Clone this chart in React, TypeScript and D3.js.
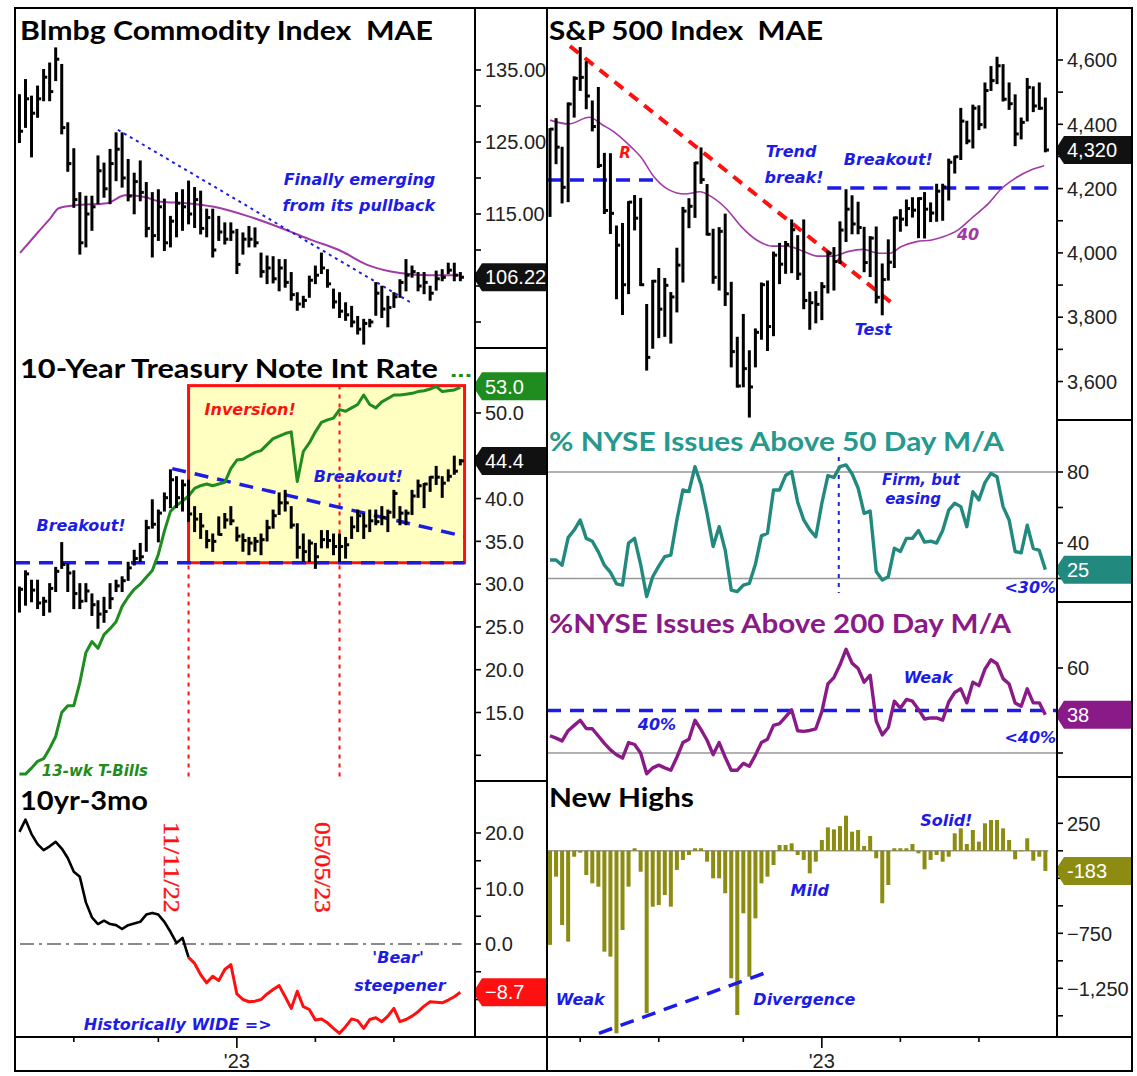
import * as d3 from 'd3';

// weekly bars, left column: Apr 29 2022 .. Sep 22 2023
const LEFT_START = new Date(2022, 3, 29);
// weekly bars, right column: Feb 25 2022 .. Sep 22 2023
const RIGHT_START = new Date(2022, 1, 25);

const bcomHigh = [131.5, 133.6, 131.3, 132.7, 135.0, 135.9, 138.0, 135.7, 127.6, 124.0,
  117.9, 117.4, 117.4, 123.0, 122.0, 123.9, 126.2, 126.2, 122.5, 120.6,
  122.3, 119.3, 117.9, 118.3, 117.0, 114.6, 117.9, 118.3, 119.5, 118.6,
  118.1, 115.6, 115.6, 114.6, 113.7, 113.7, 112.8, 112.3, 113.2, 113.0,
  109.5, 109.1, 109.0, 108.6, 108.6, 106.8, 104.0, 103.5, 106.3, 107.7,
  109.5, 107.2, 104.5, 104.0, 102.6, 102.1, 100.7, 100.3, 100.3, 105.4,
  104.9, 103.5, 104.0, 105.8, 108.6, 107.7, 106.8, 106.8, 104.9, 107.0,
  107.2, 108.1, 108.1, 106.8];
const bcomLow = [125.0, 127.1, 123.0, 128.5, 130.8, 130.8, 133.6, 126.2, 121.0, 116.0,
  109.5, 110.5, 112.8, 116.5, 117.4, 116.5, 119.7, 118.8, 116.9, 115.1,
  116.9, 111.9, 109.1, 111.4, 110.0, 110.5, 111.9, 112.8, 113.7, 113.2,
  112.3, 111.9, 109.1, 111.4, 110.9, 111.4, 106.8, 109.5, 110.5, 110.5,
  106.3, 105.4, 105.5, 104.4, 104.9, 103.1, 101.7, 102.1, 103.5, 105.4,
  106.8, 104.9, 102.0, 100.7, 100.3, 99.4, 98.4, 97.0, 99.4, 101.0,
  100.7, 99.4, 102.1, 103.5, 104.4, 106.3, 104.4, 104.0, 103.1, 104.5,
  105.8, 106.8, 105.8, 105.8];
const bcomClose = [126.5, 131.0, 129.0, 131.0, 134.0, 132.0, 136.5, 127.0, 122.0, 117.0,
  111.0, 115.0, 116.0, 121.0, 118.5, 122.0, 124.0, 120.0, 117.5, 119.5,
  118.0, 113.0, 112.0, 116.0, 111.0, 114.0, 116.5, 116.0, 115.0, 117.0,
  113.0, 114.5, 110.0, 112.5, 111.5, 112.5, 108.0, 111.5, 111.5, 111.0,
  107.0, 107.5, 106.0, 107.5, 105.5, 103.8, 102.5, 103.0, 105.8, 106.5,
  107.5, 105.3, 102.8, 101.5, 101.0, 100.0, 99.0, 99.8, 100.0, 104.0,
  101.8, 102.0, 103.5, 105.5, 106.5, 107.0, 105.0, 105.5, 104.0, 106.0,
  106.2, 107.2, 106.5, 106.22];
// moving average: [week index, value]
const bcomMa: [number, number][] = [[0.1, 109.6], [3, 112.4], [5.1, 114.4], [6.5, 115.8], [9.2, 116.2],
  [14.5, 116.5], [17.5, 117.6], [20.5, 117.4], [23.4, 116.7], [27.6, 116.5], [32.2, 116.0],
  [38.2, 114.6], [44.1, 112.8], [48.3, 111.4], [52.9, 110.0], [57.7, 107.9], [63, 106.8],
  [67.8, 106.5], [73.1, 106.5]];

// 10-year yield x10
const tnHigh = [29.6, 31.5, 30.4, 30.4, 28.4, 30.0, 31.9, 34.8, 32.3, 31.5,
  30.0, 30.0, 28.8, 28.0, 28.4, 30.0, 30.4, 30.8, 32.5, 33.9,
  34.7, 37.4, 39.8, 38.6, 40.6, 43.3, 42.5, 42.1, 42.1, 39.0,
  38.2, 36.2, 35.8, 37.8, 38.2, 39.0, 36.6, 35.8, 35.4, 35.4,
  35.8, 37.4, 38.6, 40.6, 40.9, 39.0, 37.0, 35.8, 35.1, 34.7,
  36.2, 36.2, 35.8, 35.8, 35.4, 37.8, 38.6, 38.2, 38.6, 38.6,
  39.0, 38.6, 40.9, 39.0, 38.6, 40.9, 42.1, 41.7, 42.5, 43.7,
  42.5, 43.3, 44.9, 44.5];
const tnLow = [26.8, 27.6, 28.0, 27.2, 26.4, 26.8, 29.2, 31.9, 29.2, 27.2,
  27.2, 28.0, 26.4, 24.9, 25.6, 27.2, 29.2, 29.2, 30.5, 32.3,
  32.7, 33.9, 36.6, 35.0, 38.6, 39.0, 39.0, 38.6, 37.4, 36.2,
  35.4, 34.3, 33.9, 35.8, 36.6, 37.0, 35.1, 33.9, 33.5, 33.9,
  33.5, 35.1, 36.6, 38.2, 38.6, 36.6, 33.1, 32.7, 32.7, 31.9,
  34.3, 34.3, 33.5, 32.7, 33.1, 35.4, 36.2, 35.4, 36.2, 37.0,
  37.0, 36.2, 37.8, 37.0, 37.0, 38.2, 40.2, 39.0, 40.9, 41.7,
  40.2, 42.1, 42.9, 44.0];
const tnClose = [29.4, 31.2, 29.3, 27.8, 28.0, 29.5, 31.5, 32.3, 31.3, 28.9,
  28.0, 29.2, 27.6, 26.5, 26.8, 28.3, 29.8, 30.4, 31.9, 33.0,
  33.2, 36.6, 37.0, 38.3, 40.1, 42.2, 40.1, 41.6, 38.2, 37.6,
  36.8, 35.1, 35.0, 35.8, 37.5, 37.4, 35.6, 35.1, 34.8, 35.0,
  35.2, 36.6, 38.0, 39.5, 39.5, 36.9, 34.3, 33.8, 34.8, 33.2,
  35.2, 35.1, 34.4, 34.4, 34.6, 36.7, 38.0, 36.8, 37.4, 37.3,
  37.8, 38.4, 40.6, 38.3, 38.3, 40.3, 41.5, 41.7, 42.5, 42.5,
  41.8, 42.6, 43.2, 44.4];
// 13-week T-bill x10
const tbill = [7.8, 7.8, 8.5, 9.3, 9.6, 10.8, 12.2, 15.0, 15.8, 15.8,
  18.5, 22.0, 23.3, 22.5, 24.1, 24.8, 25.6, 27.4, 28.5, 29.4,
  30.0, 30.8, 31.6, 33.5, 36.2, 38.5, 39.2, 39.7, 40.3, 41.2,
  41.5, 41.7, 41.5, 41.7, 41.9, 43.5, 44.5, 44.6, 45.0, 45.4,
  45.6, 46.3, 47.0, 47.3, 47.6, 47.8, 42.0, 45.5, 46.5, 47.8,
  48.9, 49.2, 49.4, 50.4, 50.2, 50.6, 51.0, 52.1, 51.0, 50.6,
  51.3, 51.7, 52.1, 52.1, 52.2, 52.3, 52.5, 52.6, 52.8, 53.1,
  52.5, 52.6, 52.7, 53.0];
// 10yr - 3mo spread x10
const spread = [20.2, 22.4, 19.8, 18.0, 16.9, 17.6, 18.4, 17.2, 15.5, 13.0,
  12.1, 7.5, 4.8, 3.6, 4.2, 3.6, 3.4, 2.7, 3.4, 3.7,
  4.0, 5.3, 5.6, 5.3, 4.0, 2.2, 0.2, 1.1, -2.4, -3.5,
  -5.5, -7.0, -5.8, -6.6, -4.6, -3.7, -9.0, -10.0, -10.4, -10.3,
  -10.0, -9.0, -8.2, -7.5, -9.5, -11.6, -8.5, -11.3, -11.8, -13.7,
  -13.5, -14.2, -15.2, -16.1, -14.9, -13.5, -13.8, -15.2, -13.6, -13.3,
  -14.0, -13.0, -11.6, -14.0, -13.6, -13.0, -12.2, -11.2, -10.4, -10.5,
  -10.6, -10.1, -9.5, -8.7];

const spxHigh = [4385, 4416, 4327, 4465, 4546, 4637, 4593, 4471, 4513, 4308,
  4307, 4082, 4090, 4158, 4177, 4168, 3838, 3913, 3950, 3919,
  3875, 4013, 4140, 4167, 4280, 4325, 4211, 4072, 4077, 4119,
  3907, 3736, 3807, 3694, 3762, 3905, 3911, 4001, 4028, 4034,
  4101, 4052, 4101, 3876, 3878, 3906, 4004, 4015, 4095, 4195,
  4176, 4156, 4078, 4049, 4079, 3964, 4039, 4110, 4133, 4163,
  4170, 4170, 4186, 4154, 4212, 4212, 4290, 4299, 4448, 4408,
  4458, 4456, 4527, 4578, 4607, 4584, 4527, 4490, 4418, 4541,
  4515, 4527, 4480];
const spxLow = [4115, 4279, 4157, 4161, 4424, 4507, 4450, 4381, 4267, 4124,
  4062, 3859, 3810, 3875, 4073, 3900, 3637, 3705, 3738, 3742,
  3721, 3818, 3911, 4080, 4112, 4218, 4057, 3907, 3886, 3838,
  3647, 3584, 3585, 3491, 3647, 3733, 3698, 3744, 3906, 3938,
  3940, 3919, 3828, 3764, 3784, 3794, 3877, 3886, 3969, 4037,
  4061, 4061, 3943, 3928, 3846, 3809, 3917, 3956, 4069, 4086,
  4113, 4049, 4048, 4099, 4100, 4103, 4166, 4250, 4292, 4341,
  4328, 4385, 4390, 4507, 4528, 4474, 4448, 4335, 4356, 4412,
  4441, 4448, 4316];
const spxClose = [4385, 4329, 4204, 4463, 4543, 4546, 4488, 4393, 4272, 4132,
  4123, 4024, 3901, 4158, 4108, 3901, 3675, 3912, 3825, 3899,
  3863, 3962, 4130, 4145, 4280, 4228, 4058, 3924, 4067, 3873,
  3693, 3586, 3640, 3583, 3753, 3901, 3771, 3993, 3965, 4026,
  4072, 3934, 3852, 3845, 3840, 3895, 3999, 3973, 4071, 4136,
  4090, 4079, 3970, 4046, 3862, 3917, 3971, 4109, 4105, 4138,
  4133, 4169, 4136, 4124, 4192, 4205, 4282, 4299, 4410, 4348,
  4450, 4399, 4505, 4536, 4582, 4478, 4464, 4370, 4406, 4515,
  4457, 4450, 4320];
const spxMa: [number, number][] = [[0, 4413], [3.1, 4401], [6.5, 4422], [8.7, 4398], [10.9, 4372],
  [13.4, 4330], [15, 4299], [17.2, 4237], [19.7, 4196], [22.3, 4183], [24.8, 4190], [26.7, 4175],
  [29.1, 4139], [31.7, 4081], [34.2, 4040], [36.8, 4021], [39.2, 4021], [41.7, 4007], [44.3, 3990],
  [46.8, 3990], [49.3, 4004], [51.8, 4011], [54.4, 3999], [56.3, 3999], [58.1, 4019], [60.7, 4035],
  [63.2, 4040], [65.1, 4050], [67.5, 4071], [70.1, 4113], [72.6, 4154], [74.8, 4201], [77, 4232],
  [79.6, 4258], [81.8, 4271]];

const nyse50 = [30.4, 30.4, 27.5, 43, 47.3, 53, 42.6, 41, 35, 27.5,
  23.5, 17, 16.3, 40, 42.6, 28, 9.8, 21, 27, 32.3,
  33.2, 53, 69.9, 69, 83, 73, 56.7, 38, 49.2, 36,
  13.5, 12.6, 16.3, 17.2, 28, 44, 45.5, 69.9, 69.9, 78,
  80.2, 63, 53, 47.5, 43.5, 62.4, 78, 77, 83, 84,
  79, 71, 56.7, 58, 24, 19.2, 21, 37, 35.2, 42.6,
  42.6, 47, 40.5, 41, 40, 47, 58.5, 62.4, 60.5, 49.2,
  68.9, 64.3, 74, 79.2, 77.3, 60.5, 53, 35.2, 34.5, 50,
  37, 35.8, 25];
const nyse200 = [28.1, 27, 25.7, 30.5, 33, 35.4, 31.5, 31.4, 28, 24.5,
  21.5, 19.2, 17.6, 24.9, 24, 20, 10.2, 13, 14.3, 13,
  11.9, 18, 24.9, 26.5, 35.4, 31, 26, 19.2, 24.9, 18,
  11.9, 11.9, 15.1, 13.8, 19, 24.9, 26.5, 33, 33.8, 37,
  40.3, 30.5, 30.2, 30.6, 31.4, 39.5, 52.5, 55.5, 61.5, 68.8,
  62.3, 59.8, 53.3, 56.6, 35, 28.5, 32, 44.4, 41.1, 45.2,
  44.4, 40.5, 36, 36.5, 36.5, 35.5, 44, 48.5, 50.2, 43.6,
  53.3, 51.7, 59.5, 63.9, 62, 55, 52.5, 43.5, 42, 50.2,
  43.6, 43.6, 38];
const newHighs = [-855, -235, -675, -826, -54, -17, -220, -296, -326, -917,
  -962, -1659, -720, -326, 23, -190, -1477, -508, -493, -402,
  -508, -174, -83, -38, 23, 23, -99, -250, -250, -386,
  -1159, -1493, -568, -1144, -614, -296, -235, -129, 53, 53,
  68, -38, -83, -205, -99, 98, 213, 195, 225, 319,
  174, 189, 44, 135, -68, -477, -311, 23, 23, 23,
  62, -23, -168, -83, -38, -99, -54, 159, 204, 62,
  189, 83, 250, 280, 280, 204, 98, -77, 5, 114,
  -90, -54, -183];

const leftTicks = [new Date(2022, 6, 1), new Date(2022, 9, 7), new Date(2023, 0, 6), new Date(2023, 3, 7), new Date(2023, 6, 7)];
const rightTicks = [new Date(2022, 3, 1), ...leftTicks];
const YEAR_TICK = new Date(2023, 0, 6);
const MARK_DATES = [new Date(2022, 10, 11), new Date(2023, 4, 5)];

const DAY = 864e5;
const wkL = (i: number) => new Date(+LEFT_START + i * 7 * DAY);
const wkR = (j: number) => new Date(+RIGHT_START + j * 7 * DAY);

// layout
const L0 = 16, LAX = 475, DIV = 547, RAX = 1057, R2 = 1132;
const TOP = 8, XAXIS = 1037, BOTTOM = 1071;

const FONT_AX = '"Liberation Sans", Arial, sans-serif';
const FONT_TITLE = 'Lato, "Open Sans", sans-serif';
const FONT_NOTE = '"DejaVu Sans", Verdana, sans-serif';
const BLUE = '#1c1ce6';
const RED = '#ff1010';
const GREEN = '#1e8c1e';
const TEAL = '#22897f';
const PURPLE = '#8a1a88';
const OLIVE = '#8c8c12';
const MA_PURPLE = '#a23aa6';

const xL = d3.scaleTime().domain([new Date(2022, 3, 25), new Date(2023, 9, 9)]).range([L0, LAX]);
const xR = d3.scaleTime().domain([new Date(2022, 1, 21, 12), new Date(2023, 9, 5, 12)]).range([DIV, RAX]);

const yBcom = d3.scaleLinear().domain([100, 135]).range([322, 70]);
const yTn = d3.scaleLinear().domain([15, 50]).range([712.5, 413]);
const ySpread = d3.scaleLinear().domain([0, 20]).range([944, 833]);
const ySpx = d3.scaleLinear().domain([3600, 4600]).range([381.5, 60]);
const yN50 = d3.scaleLinear().domain([40, 80]).range([543, 472]);
const yN200 = d3.scaleLinear().domain([20, 60]).range([753, 668]);
const yNh = d3.scaleLinear().domain([-1250, 250]).range([988.3, 823.3]);

type Scale = (v: number) => number;

function HLC({ dates, hi, lo, cl, x, y }: { dates: Date[]; hi: number[]; lo: number[]; cl: number[]; x: (d: Date) => number; y: Scale }) {
  return (
    <g stroke="#000" strokeWidth={3} fill="none">
      {dates.map((d, i) => {
        const px = x(d);
        return (
          <g key={i}>
            <line x1={px} x2={px} y1={y(hi[i]) - 1} y2={y(lo[i]) + 1} />
            <line x1={px} x2={px + 3.6} y1={y(cl[i])} y2={y(cl[i])} />
          </g>
        );
      })}
    </g>
  );
}

function YAxis({ ax, scale, ticks, labels, fmt }: { ax: number; scale: Scale; ticks: number[]; labels: number[]; fmt: (v: number) => string }) {
  return (
    <g>
      {ticks.map((t) => (
        <line key={'t' + t} x1={ax} x2={ax + 6} y1={scale(t)} y2={scale(t)} stroke="#000" strokeWidth={1.6} />
      ))}
      {labels.map((t) => (
        <text key={'l' + t} x={ax + 10} y={scale(t)} dy="0.36em" fontSize={20} fill="#222" fontFamily={FONT_AX}>
          {fmt(t)}
        </text>
      ))}
    </g>
  );
}

function Tag({ ax, right, y, text, fill }: { ax: number; right: number; y: number; text: string; fill: string }) {
  const h = 14;
  const d = `M${ax - 2},${y} L${ax + 7},${y - h} L${right},${y - h} L${right},${y + h} L${ax + 7},${y + h} Z`;
  return (
    <g>
      <path d={d} fill={fill} />
      <text x={ax + 10} y={y} dy="0.36em" fontSize={20} fill="#fff" fontFamily={FONT_AX}>
        {text}
      </text>
    </g>
  );
}

function Title({ x, y, len, fill = '#000', children }: { x: number; y: number; len: number; fill?: string; children: string }) {
  return (
    <text x={x} y={y} fontFamily={FONT_TITLE} fontWeight={700} fontSize={27} fill={fill}
      textLength={len} lengthAdjust="spacingAndGlyphs" style={{ whiteSpace: 'pre' }}>
      {children}
    </text>
  );
}

function Note({ x, y, fill = BLUE, size = 16, children }: { x: number; y: number; fill?: string; size?: number; children: string }) {
  return (
    <text x={x} y={y} fill={fill} fontSize={size} fontStyle="italic" fontWeight="bold"
      fontFamily={FONT_NOTE} textAnchor="middle">
      {children}
    </text>
  );
}

const seriesPath = (dates: Date[], vals: number[], x: (d: Date) => number, y: Scale) =>
  d3.line<number>().x((_, i) => x(dates[i])).y((v) => y(v))(vals) ?? '';

const maPath = (pts: [number, number][], wk: (i: number) => Date, x: (d: Date) => number, y: Scale) =>
  d3.line<[number, number]>().x((p) => x(wk(p[0]))).y((p) => y(p[1])).curve(d3.curveMonotoneX)(pts) ?? '';

export default function App() {
  const leftDates = bcomHigh.map((_, i) => wkL(i));
  const rightDates = spxHigh.map((_, j) => wkR(j));
  const fmt2 = d3.format('.2f');
  const fmt1 = d3.format('.1f');
  const fmtC = d3.format(',');
  const last = (a: number[]) => a[a.length - 1];

  const SPLIT = 28; // 11/11/22 bar
  const boxX0 = xL(MARK_DATES[0]);
  const boxX1 = xL(wkL(73.7));
  const boxY0 = yTn(53.2);
  const boxY1 = yTn(32.5);

  return (
    <div style={{ position: 'absolute', left: 0, top: 0 }}>
      <svg width={1137} height={1076} style={{ display: 'block', background: '#fff' }} fontFamily={FONT_AX}>
        <defs>
          <clipPath id="cL1"><rect x={L0} y={TOP} width={LAX - L0} height={348 - TOP} /></clipPath>
          <clipPath id="cL2"><rect x={L0} y={348} width={LAX - L0} height={781 - 348} /></clipPath>
          <clipPath id="cL3"><rect x={L0} y={781} width={LAX - L0} height={XAXIS - 781} /></clipPath>
          <clipPath id="cR1"><rect x={DIV} y={TOP} width={RAX - DIV} height={420 - TOP} /></clipPath>
          <clipPath id="cR2"><rect x={DIV} y={420} width={RAX - DIV} height={602 - 420} /></clipPath>
          <clipPath id="cR3"><rect x={DIV} y={602} width={RAX - DIV} height={777 - 602} /></clipPath>
          <clipPath id="cR4"><rect x={DIV} y={777} width={RAX - DIV} height={XAXIS - 777} /></clipPath>
          <clipPath id="cAxL"><rect x={LAX} y={TOP} width={DIV - LAX} height={XAXIS - TOP} /></clipPath>
          <clipPath id="cAxR"><rect x={RAX} y={TOP} width={R2 - RAX} height={XAXIS - TOP} /></clipPath>
        </defs>

        {/* ---------- LEFT 1: Bloomberg commodity ---------- */}
        <g clipPath="url(#cL1)">
          <path d={maPath(bcomMa, wkL, xL, yBcom)} fill="none" stroke={MA_PURPLE} strokeWidth={2} />
          <line x1={xL(wkL(16.3))} y1={yBcom(126.7)} x2={xL(wkL(65))} y2={yBcom(102.6)}
            stroke={BLUE} strokeWidth={2} strokeDasharray="3,4" />
          <HLC dates={leftDates} hi={bcomHigh} lo={bcomLow} cl={bcomClose} x={xL} y={yBcom} />
          <Note x={xL(wkL(56.3))} y={yBcom(119.0)}>Finally emerging</Note>
          <Note x={xL(wkL(56.2))} y={yBcom(115.4)}>from its pullback</Note>
        </g>
        <Title x={20} y={40} len={413}>{'Blmbg Commodity Index  MAE'}</Title>

        {/* ---------- LEFT 2: 10-year yield ---------- */}
        <g clipPath="url(#cL2)">
          <rect x={boxX0} y={boxY0} width={boxX1 - boxX0} height={boxY1 - boxY0} fill="#ffffc2" stroke={RED} strokeWidth={3} />
          {MARK_DATES.map((d, k) => (
            <line key={k} x1={xL(d)} x2={xL(d)} y1={boxY0} y2={XAXIS} stroke={RED} strokeWidth={2} strokeDasharray="4,5" />
          ))}
          <line x1={L0} x2={boxX1} y1={yTn(32.5)} y2={yTn(32.5)} stroke={BLUE} strokeWidth={3.5} strokeDasharray="14,9" />
          <line x1={xL(wkL(25.3))} y1={yTn(43.5)} x2={xL(wkL(73.6))} y2={yTn(35.6)} stroke={BLUE} strokeWidth={3.5} strokeDasharray="14,9" />
          <path d={seriesPath(leftDates, tbill, xL, yTn)} fill="none" stroke={GREEN} strokeWidth={3} strokeLinejoin="round" />
          <HLC dates={leftDates} hi={tnHigh} lo={tnLow} cl={tnClose} x={xL} y={yTn} />
          <Note x={xL(wkL(10.2))} y={yTn(36.2)}>Breakout!</Note>
          <Note x={xL(wkL(56.1))} y={yTn(41.9)}>Breakout!</Note>
          <Note x={xL(wkL(38.2))} y={yTn(49.8)} fill={RED}>Inversion!</Note>
          <Note x={xL(wkL(12.5))} y={yTn(7.6)} fill={GREEN} size={15}>13-wk T-Bills</Note>
        </g>
        <Title x={20} y={378} len={418}>{'10-Year Treasury Note Int Rate'}</Title>
        <text x={450} y={377} fill={GREEN} fontSize={20} fontWeight="bold" textLength={22} lengthAdjust="spacingAndGlyphs">...</text>

        {/* ---------- LEFT 3: 10yr-3mo ---------- */}
        <g clipPath="url(#cL3)">
          <line x1={L0 + 4} x2={xL(wkL(73.2))} y1={ySpread(0)} y2={ySpread(0)} stroke="#8a8a8a" strokeWidth={1.8} strokeDasharray="14,5,3,5" />
          <path d={seriesPath(leftDates.slice(0, SPLIT + 1), spread.slice(0, SPLIT + 1), xL, ySpread)} fill="none" stroke="#000" strokeWidth={2.6} strokeLinejoin="round" />
          <path d={seriesPath(leftDates.slice(SPLIT), spread.slice(SPLIT), xL, ySpread)} fill="none" stroke={RED} strokeWidth={3} strokeLinejoin="round" />
          <Note x={xL(wkL(62.7))} y={ySpread(-3.4)}>'Bear'</Note>
          <Note x={xL(wkL(63.0))} y={ySpread(-8.4)}>steepener</Note>
          <Note x={xL(wkL(26.2))} y={ySpread(-15.5)}>{'Historically WIDE =>'}</Note>
          {MARK_DATES.map((d, k) => (
            <text key={k} transform={`translate(${xL(d) - 25},${ySpread(22)}) rotate(90)`} fill={RED}
              fontFamily='"Liberation Serif", "Times New Roman", serif' fontSize={24} textLength={91} lengthAdjust="spacingAndGlyphs"
              stroke={RED} strokeWidth={0.4}>
              {d3.timeFormat('%m/%d/%y')(d)}
            </text>
          ))}
        </g>
        <Title x={20} y={810} len={128}>{'10yr-3mo'}</Title>

        {/* ---------- RIGHT 1: S&P 500 ---------- */}
        <g clipPath="url(#cR1)">
          <line x1={DIV} x2={xR(wkR(17.1))} y1={ySpx(4227)} y2={ySpx(4227)} stroke={BLUE} strokeWidth={3.5} strokeDasharray="14,9" />
          <line x1={xR(wkR(45.9))} x2={RAX} y1={ySpx(4202)} y2={ySpx(4202)} stroke={BLUE} strokeWidth={3.5} strokeDasharray="14,9" />
          <line x1={xR(wkR(3.3))} y1={ySpx(4643)} x2={xR(wkR(56.6))} y2={ySpx(3844)} stroke={RED} strokeWidth={4} strokeDasharray="11,8" />
          <path d={maPath(spxMa, wkR, xR, ySpx)} fill="none" stroke={MA_PURPLE} strokeWidth={1.6} />
          <HLC dates={rightDates} hi={spxHigh} lo={spxLow} cl={spxClose} x={xR} y={ySpx} />
          <Note x={xR(wkR(12.4))} y={ySpx(4295)} fill={RED} size={15}>R</Note>
          <Note x={xR(wkR(39.9))} y={ySpx(4298)}>Trend</Note>
          <Note x={xR(wkR(40.4))} y={ySpx(4217)}>break!</Note>
          <Note x={xR(wkR(56.0))} y={ySpx(4273)}>Breakout!</Note>
          <Note x={xR(wkR(53.5))} y={ySpx(3745)}>Test</Note>
          <Note x={xR(wkR(69.2))} y={ySpx(4040)} fill={MA_PURPLE}>40</Note>
        </g>
        <Title x={549} y={40} len={274}>{'S&P 500 Index  MAE'}</Title>

        {/* ---------- RIGHT 2: % above 50-day ---------- */}
        <g clipPath="url(#cR2)">
          {[80, 20].map((v) => (
            <line key={v} x1={DIV} x2={RAX} y1={yN50(v)} y2={yN50(v)} stroke="#999" strokeWidth={1.6} />
          ))}
          <line x1={xR(wkR(47.8))} x2={xR(wkR(47.8))} y1={yN50(88.5)} y2={yN50(11.8)} stroke={BLUE} strokeWidth={2} strokeDasharray="4,5" />
          <path d={seriesPath(rightDates, nyse50, xR, yN50)} fill="none" stroke={TEAL} strokeWidth={3.4} strokeLinejoin="round" />
          <Note x={xR(wkR(61.4))} y={yN50(72.6)} size={15}>Firm, but</Note>
          <Note x={xR(wkR(60.1))} y={yN50(62.0)} size={15}>easing</Note>
          <Note x={xR(wkR(79.5))} y={yN50(11.8)}>{'<30%'}</Note>
        </g>
        <Title x={549} y={451} len={455} fill="#25998d">{'% NYSE Issues Above 50 Day M/A'}</Title>

        {/* ---------- RIGHT 3: % above 200-day ---------- */}
        <g clipPath="url(#cR3)">
          <line x1={DIV} x2={RAX} y1={yN200(20)} y2={yN200(20)} stroke="#999" strokeWidth={1.6} />
          <line x1={DIV} x2={RAX} y1={yN200(40)} y2={yN200(40)} stroke={BLUE} strokeWidth={3.5} strokeDasharray="14,9" />
          <path d={seriesPath(rightDates, nyse200, xR, yN200)} fill="none" stroke={PURPLE} strokeWidth={3.4} strokeLinejoin="round" />
          <Note x={xR(wkR(17.7))} y={yN200(30.8)}>40%</Note>
          <Note x={xR(wkR(62.6))} y={yN200(52.9)}>Weak</Note>
          <Note x={xR(wkR(79.5))} y={yN200(24.7)}>{'<40%'}</Note>
        </g>
        <Title x={549} y={633} len={462} fill={PURPLE}>{'%NYSE Issues Above 200 Day M/A'}</Title>

        {/* ---------- RIGHT 4: new highs ---------- */}
        <g clipPath="url(#cR4)">
          <line x1={xR(wkR(0)) - 3} x2={xR(wkR(82)) + 3} y1={yNh(0)} y2={yNh(0)} stroke="#999" strokeWidth={1.6} />
          {rightDates.map((d, j) => (
            <rect key={j} x={xR(d) - 2} width={4}
              y={Math.min(yNh(0), yNh(newHighs[j]))} height={Math.max(1, Math.abs(yNh(newHighs[j]) - yNh(0)))} fill={OLIVE} />
          ))}
          <line x1={xR(wkR(8.1))} y1={yNh(-1659)} x2={xR(wkR(36.1))} y2={yNh(-1100)} stroke={BLUE} strokeWidth={3.5} strokeDasharray="14,9" />
          <Note x={xR(wkR(5.0))} y={yNh(-1402)}>Weak</Note>
          <Note x={xR(wkR(42.1))} y={yNh(-1402)}>Divergence</Note>
          <Note x={xR(wkR(43.0))} y={yNh(-411)}>Mild</Note>
          <Note x={xR(wkR(65.6))} y={yNh(225)}>Solid!</Note>
        </g>
        <Title x={549} y={807} len={145}>{'New Highs'}</Title>

        {/* ---------- axes (labels that sit under a value tag are left out) ---------- */}
        <g clipPath="url(#cAxL)">
          <YAxis ax={LAX} scale={yBcom} ticks={d3.range(100, 136, 5)} labels={[135, 125, 115]} fmt={fmt2} />
          <YAxis ax={LAX} scale={yTn} ticks={d3.range(10, 51, 5)} labels={[50, 40, 35, 30, 25, 20, 15]} fmt={fmt1} />
          <YAxis ax={LAX} scale={ySpread} ticks={d3.range(-10, 21, 5)} labels={[20, 10, 0]} fmt={fmt1} />
          <Tag ax={LAX} right={DIV} y={yBcom(last(bcomClose))} text={fmt2(last(bcomClose))} fill="#111" />
          <Tag ax={LAX} right={DIV} y={yTn(last(tbill)) - 1} text={fmt1(last(tbill))} fill={GREEN} />
          <Tag ax={LAX} right={DIV} y={yTn(last(tnClose))} text={fmt1(last(tnClose))} fill="#111" />
          <Tag ax={LAX} right={DIV} y={ySpread(last(spread))} text={fmt1(last(spread))} fill={RED} />
        </g>
        <g clipPath="url(#cAxR)">
          <YAxis ax={RAX} scale={ySpx} ticks={d3.range(3600, 4601, 100)} labels={d3.range(3600, 4601, 200)} fmt={fmtC} />
          <YAxis ax={RAX} scale={yN50} ticks={[20, 40, 60, 80]} labels={[40, 80]} fmt={String} />
          <YAxis ax={RAX} scale={yN200} ticks={[20, 40, 60]} labels={[60]} fmt={String} />
          <YAxis ax={RAX} scale={yNh} ticks={d3.range(-1500, 251, 250)} labels={[250, -750, -1250]} fmt={fmtC} />
          <Tag ax={RAX} right={R2} y={ySpx(last(spxClose))} text={fmtC(last(spxClose))} fill="#111" />
          <Tag ax={RAX} right={R2} y={yN50(last(nyse50))} text={String(last(nyse50))} fill={TEAL} />
          <Tag ax={RAX} right={R2} y={yN200(last(nyse200))} text={String(last(nyse200))} fill={PURPLE} />
          <Tag ax={RAX} right={R2} y={yNh(last(newHighs))} text={String(last(newHighs))} fill={OLIVE} />
        </g>

        {/* x axes */}
        {leftTicks.map((d, k) => (
          <line key={'xl' + k} x1={xL(d)} x2={xL(d)} y1={XAXIS} y2={XAXIS + (+d === +YEAR_TICK ? 11 : 5)} stroke="#000" strokeWidth={1.6} />
        ))}
        {rightTicks.map((d, k) => (
          <line key={'xr' + k} x1={xR(d)} x2={xR(d)} y1={XAXIS} y2={XAXIS + (+d === +YEAR_TICK ? 11 : 5)} stroke="#000" strokeWidth={1.6} />
        ))}
        <text x={xL(YEAR_TICK)} y={1068} textAnchor="middle" fontSize={20} fill="#222">'23</text>
        <text x={xR(YEAR_TICK)} y={1068} textAnchor="middle" fontSize={20} fill="#222">'23</text>

        {/* frame and separators */}
        <g stroke="#000" strokeWidth={2} fill="none">
          <rect x={15} y={TOP} width={R2 - 15} height={BOTTOM - TOP} />
          <line x1={LAX} x2={LAX} y1={TOP} y2={XAXIS} />
          <line x1={DIV} x2={DIV} y1={TOP} y2={BOTTOM} />
          <line x1={RAX} x2={RAX} y1={TOP} y2={XAXIS} />
          <line x1={15} x2={R2} y1={XAXIS} y2={XAXIS} />
          <line x1={LAX} x2={DIV} y1={348} y2={348} />
          <line x1={LAX} x2={DIV} y1={781} y2={781} />
          <line x1={RAX} x2={R2} y1={420} y2={420} />
          <line x1={RAX} x2={R2} y1={602} y2={602} />
          <line x1={RAX} x2={R2} y1={777} y2={777} />
        </g>
      </svg>
    </div>
  );
}
